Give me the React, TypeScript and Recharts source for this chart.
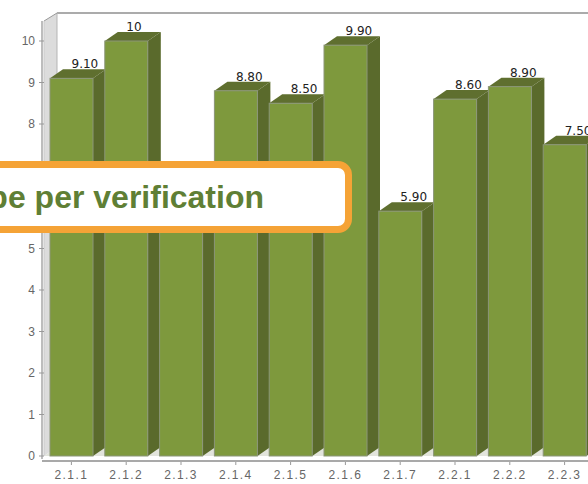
import { BarChart, Bar, XAxis, YAxis, LabelList, usePlotArea } from "recharts";

const categories = ["2.1.1", "2.1.2", "2.1.3", "2.1.4", "2.1.5", "2.1.6", "2.1.7", "2.2.1", "2.2.2", "2.2.3"];
const scores = [9.1, 10, 6.5, 8.8, 8.5, 9.9, 5.9, 8.6, 8.9, 7.5];
const yTicks = [0, 1, 2, 3, 4, 5, 6, 7, 8, 9, 10];

const data = categories.map((name, i) => ({ name, score: scores[i] }));

const DEPTH_X = 13;
const DEPTH_Y = 9;

// back wall and floor behind the bars
function Frame() {
  const plot = usePlotArea();
  if (!plot) return null;
  const left = plot.x;
  const bottom = plot.y + plot.height;
  const right = plot.x + plot.width + 20;
  return (
    <g>
      <polygon
        points={`${left},21 ${left + DEPTH_X},13 ${left + DEPTH_X},${bottom - DEPTH_Y} ${left},${bottom}`}
        fill="#dcdcdc"
      />
      <polygon
        points={`${left},${bottom} ${left + DEPTH_X},${bottom - DEPTH_Y} ${right},${bottom - DEPTH_Y} ${right},${bottom}`}
        fill="#e2e4dc"
      />
      <line x1={left + DEPTH_X} y1={13} x2={right} y2={13} stroke="#8f8f8f" strokeWidth={1.5} />
      <line x1={left + DEPTH_X} y1={13} x2={left + DEPTH_X} y2={bottom - DEPTH_Y} stroke="#b5b5b5" />
      <line x1={left} y1={21} x2={left + DEPTH_X} y2={13} stroke="#9a9a9a" />
      <line x1={left - 2} y1={21} x2={left - 2} y2={bottom + 3} stroke="#bdbdbd" strokeWidth={2} />
      <line x1={left} y1={21} x2={left} y2={bottom} stroke="#c9c9c9" />
      <line x1={left - 2} y1={bottom + 5} x2={right} y2={bottom + 5} stroke="#a9a9a9" strokeWidth={2} />
    </g>
  );
}

function Bar3D(props: any) {
  const { x, y, width, height } = props;
  const r = x + width;
  const base = y + height;
  return (
    <g>
      <polygon
        points={`${x},${y} ${x + DEPTH_X},${y - DEPTH_Y} ${r + DEPTH_X},${y - DEPTH_Y} ${r},${y}`}
        fill="#5f6f2f"
      />
      <polygon
        points={`${r},${y} ${r + DEPTH_X},${y - DEPTH_Y} ${r + DEPTH_X},${base - DEPTH_Y} ${r},${base}`}
        fill="#5a6a2c"
      />
      <rect x={x} y={y} width={width} height={height} fill="#7e993d" stroke="#8b9579" strokeWidth={1} />
    </g>
  );
}

function ValueLabel(props: any) {
  const { x, y, width, value } = props;
  const text = value === 10 ? "10" : Number(value).toFixed(2);
  return (
    <text x={x + width / 2} y={y - 10} fontSize={12} fontFamily="DejaVu Sans" fill="#222" textAnchor="start">
      {text}
    </text>
  );
}

function XTick(props: any) {
  const { x, y, payload } = props;
  return (
    <g>
      <line x1={x} y1={y} x2={x} y2={y + 3} stroke="#999" />
      <text
        x={x}
        y={y + 17}
        fontSize={12}
        fontFamily="Liberation Sans"
        letterSpacing={1.4}
        fill="#666"
        textAnchor="middle"
      >
        {payload.value}
      </text>
    </g>
  );
}

export default function App() {
  return (
    <div
      style={{
        position: "absolute",
        left: 0,
        top: 0,
        width: 588,
        height: 484,
        overflow: "hidden",
        background: "#fff",
      }}
    >
      <BarChart
        width={598}
        height={484}
        data={data}
        margin={{ top: 41, right: 6, bottom: 0, left: 0 }}
        barSize={43}
      >
        <Frame />
        <XAxis dataKey="name" axisLine={false} tickLine={false} tick={<XTick />} interval={0} height={28} tickMargin={0} />
        <YAxis
          domain={[0, 10]}
          ticks={yTicks}
          width={44}
          axisLine={false}
          tickLine={{ stroke: "#999" }}
          tickSize={5}
          tickMargin={4}
          tick={{ fontSize: 12, fontFamily: "Liberation Sans", fill: "#666" }}
        />
        <Bar dataKey="score" shape={<Bar3D />} isAnimationActive={false}>
          <LabelList dataKey="score" content={<ValueLabel />} />
        </Bar>
      </BarChart>
      <div
        style={{
          position: "absolute",
          left: -20,
          top: 161,
          width: 372,
          height: 72,
          boxSizing: "border-box",
          border: "7px solid #f5a336",
          borderRadius: 14,
          background: "#fff",
        }}
      />
      <div
        style={{
          position: "absolute",
          right: 324,
          top: 181,
          whiteSpace: "nowrap",
          fontFamily: "Liberation Sans",
          fontWeight: 700,
          fontSize: 32,
          lineHeight: "32px",
          color: "#5f7f35",
        }}
      >
        type per verification
      </div>
    </div>
  );
}
